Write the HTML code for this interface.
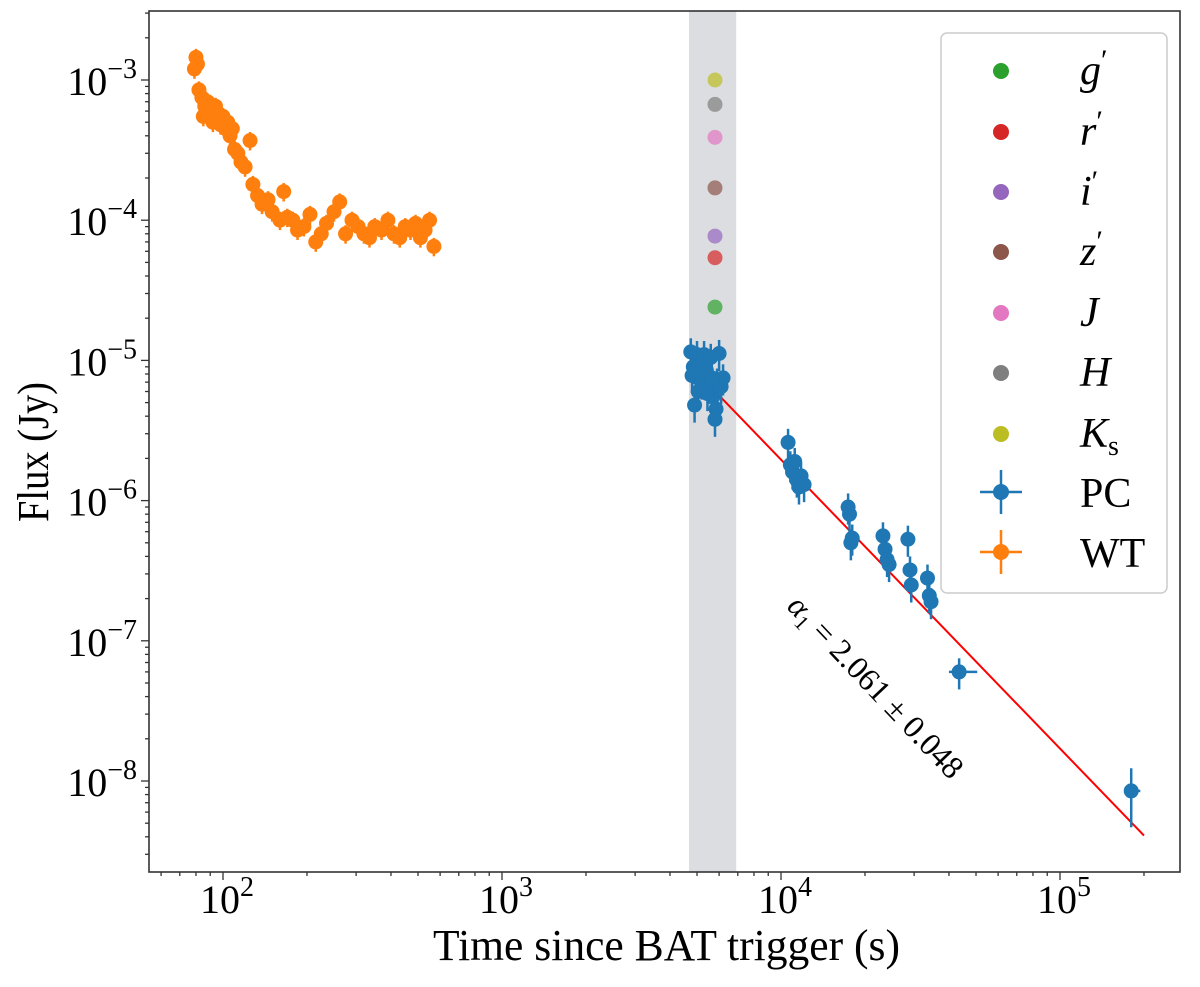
<!DOCTYPE html>
<html><head><meta charset="utf-8">
<style>
html,body{margin:0;padding:0;background:#fff;}
svg text{font-family:"Liberation Serif","DejaVu Serif",serif;fill:#000;}
</style></head>
<body>
<svg id="chart" width="1200" height="982" xmlns="http://www.w3.org/2000/svg">
<g id="plot"></g>
</svg>
<script>
// --- data ---
const wtTime = [80,81,79,82,84,86,85,88,90,92,94,96,98,100,102,104,106,108,110,113,116,120,125,128,133,138,145,150,160,165,170,178,185,195,205,215,225,235,250,262,275,290,305,320,335,350,370,390,410,430,450,470,490,510,530,550,570];
const wtFlux = [1.45e-3,1.3e-3,1.2e-3,8.5e-4,7.5e-4,6.5e-4,5.5e-4,7e-4,6e-4,5e-4,6.5e-4,5.5e-4,4.8e-4,5.5e-4,4.5e-4,5e-4,4e-4,4.5e-4,3.2e-4,3e-4,2.6e-4,2.4e-4,3.7e-4,1.8e-4,1.5e-4,1.3e-4,1.4e-4,1.15e-4,1.0e-4,1.6e-4,1.05e-4,1.0e-4,8.5e-5,9e-5,1.1e-4,7e-5,8e-5,9.5e-5,1.15e-4,1.35e-4,8e-5,1.0e-4,9e-5,8e-5,7.5e-5,9e-5,8.5e-5,1.0e-4,8e-5,7.5e-5,9e-5,8.5e-5,9.5e-5,7.5e-5,8.5e-5,1.0e-4,6.5e-5];
const pcTime = [4750,4800,4900,5000,5100,5200,5300,5400,5500,5600,5700,5800,5900,6000,6100,6200,4850,5050,5250,5450,5650,5850,10600,10800,11000,11200,11400,11600,11800,12100,17400,17600,17800,18000,23200,23600,24000,24400,28500,29000,29300,33500,34000,34500,43500,180000];
const pcFlux = [1.15e-5,7.8e-6,4.8e-6,1.1e-5,9e-6,7e-6,1.1e-5,8.5e-6,6.5e-6,1.05e-5,5.5e-6,3.8e-6,7e-6,1.12e-5,6.5e-6,7.5e-6,9e-6,6e-6,8e-6,5.8e-6,7.5e-6,4.5e-6,2.6e-6,1.8e-6,1.6e-6,1.9e-6,1.4e-6,1.25e-6,1.5e-6,1.3e-6,9e-7,8e-7,5e-7,5.4e-7,5.6e-7,4.5e-7,3.8e-7,3.5e-7,5.3e-7,3.2e-7,2.5e-7,2.8e-7,2.1e-7,1.9e-7,6e-8,8.5e-9];
const pcXErr = [0,0,0,0,0,0,0,0,0,0,0,0,0,0,0,0,0,0,0,0,0,0,0,0,0,0,0,0,0,0,0,0,0,0,0,0,0,0,0,0,0,0,0,0,7000,14000];
const opticalBands = ["Ks","H","J","z'","i'","r'","g'"];
const opticalFlux = [1.0e-3,6.7e-4,3.9e-4,1.7e-4,7.7e-5,5.4e-5,2.4e-5];
const opticalColor = ["#bcbd22","#7f7f7f","#e377c2","#8c564b","#9467bd","#d62728","#2ca02c"];
const opticalTime = 5800;
const bandStart = 4680, bandEnd = 6910;
const fitStart = 4800, fitEnd = 200000, fitIndex = 2.061, fitNorm = 8.9e-6;
const xTickExp = [2,3,4,5];
const yTickExp = [-3,-4,-5,-6,-7,-8];

// --- axes ---
const L=149,R=1180,T=11,B=872;
const X=t=>223+279*(Math.log10(t)-2);
const Y=f=>80+140.2*(-3-Math.log10(f));
const NS="http://www.w3.org/2000/svg";
const g=document.getElementById('plot');
function mk(tag,attrs,parent){const e=document.createElementNS(NS,tag);for(const k in attrs)e.setAttribute(k,attrs[k]);(parent||g).appendChild(e);return e;}

const defs=mk('defs',{});
const cp=mk('clipPath',{id:'clip'},defs);mk('rect',{x:L,y:T,width:R-L,height:B-T},cp);
const data=mk('g',{'clip-path':'url(#clip)'});

const band=mk('rect',{x:X(bandStart),y:T,width:X(bandEnd)-X(bandStart),height:B-T,fill:'#dcdde0'},data);



const fit=mk('line',{x1:X(fitStart),y1:Y(fitNorm),x2:X(fitEnd),y2:Y(fitNorm*Math.pow(fitEnd/fitStart,-fitIndex)),stroke:'#ff0000','stroke-width':2},data);



const wtG=mk('g',{},data);


wtTime.forEach((t,i)=>{const f=wtFlux[i],x=X(t);
 mk('line',{x1:x,x2:x,y1:Y(f*1.15),y2:Y(f*0.85),stroke:'#ff7f0e','stroke-width':2.5},wtG);
 const c=mk('circle',{cx:x,cy:Y(f),r:7.5,fill:'#ff7f0e'},wtG);
 
 
});
const pcG=mk('g',{},data);


pcTime.forEach((t,i)=>{const f=pcFlux[i],x=X(t);const ef=(i==pcTime.length-1)?0.45:0.25;
 mk('line',{x1:x,x2:x,y1:Y(f*(1+ef)),y2:Y(f*(1-ef)),stroke:'#1f77b4','stroke-width':2.5},pcG);
 if(pcXErr[i]>0)mk('line',{x1:X(t-pcXErr[i]*0.5),x2:X(t+pcXErr[i]),y1:Y(f),y2:Y(f),stroke:'#1f77b4','stroke-width':2.5},pcG);
 const c=mk('circle',{cx:x,cy:Y(f),r:7.5,fill:'#1f77b4'},pcG);
 
 
});
opticalFlux.forEach((f,i)=>{
 const c=mk('circle',{cx:X(opticalTime),cy:Y(f),r:7.5,fill:opticalColor[i],'fill-opacity':0.7},data);
 
 
});

const frame=mk('rect',{x:L,y:T,width:R-L,height:B-T,fill:'none',stroke:'#333','stroke-width':1.6});



for(let e=1;e<=5;e++){for(let m=1;m<10;m++){const v=m*Math.pow(10,e);const x=X(v);if(x<L||x>R)continue;
 mk('line',{x1:x,x2:x,y1:B,y2:B+(m==1?8:4),stroke:'#333','stroke-width':1.3});}}
xTickExp.forEach(e=>{const t=mk('text',{x:X(Math.pow(10,e))+4,y:B+41,'font-size':40,'text-anchor':'middle'});
 
 
 t.innerHTML='10<tspan dy="-17" font-size="28">'+e+'</tspan>';});
for(let e=-9;e<=-3;e++){for(let m=1;m<10;m++){const v=m*Math.pow(10,e);const y=Y(v);if(y<T||y>B)continue;
 mk('line',{x1:L,x2:L-(m==1?8:4),y1:y,y2:y,stroke:'#333','stroke-width':1.3});}}
yTickExp.forEach(e=>{const t=mk('text',{x:L-12,y:Y(Math.pow(10,e))+15,'font-size':40,'text-anchor':'end'});
 
 
 t.innerHTML='10<tspan dy="-17" font-size="28">\u2212'+(-e)+'</tspan>';});

const xt=mk('text',{x:433,y:960,'font-size':44,textLength:467,lengthAdjust:'spacingAndGlyphs'});xt.textContent='Time since BAT trigger (s)';


const yt=mk('text',{x:0,y:0,'font-size':44,'text-anchor':'middle',textLength:140,lengthAdjust:'spacingAndGlyphs',transform:'translate(48,452) rotate(-90)'});yt.textContent='Flux (Jy)';



const an=mk('text',{x:0,y:0,'font-size':32,'text-anchor':'middle',transform:'translate(868,694) rotate(46.5)'});


an.innerHTML='<tspan font-style="italic">α</tspan><tspan font-size="21" dy="6">1</tspan><tspan dy="-6"> = 2.061 ± 0.048</tspan>';

const lg=mk('g',{});


mk('rect',{x:941,y:33,width:226,height:560,rx:6,fill:'#fff','fill-opacity':0.8,stroke:'#ccc','stroke-width':1.5},lg);
const legLabels=["g'","r'","i'","z'","J","H","K"];
const legColors=["#2ca02c","#d62728","#9467bd","#8c564b","#e377c2","#7f7f7f","#bcbd22"];
const ly=[71,132,192,252,313,373,434];
legLabels.forEach((s,i)=>{
 const c=mk('circle',{cx:1001,cy:ly[i],r:8,fill:legColors[i]},lg);
 
 
 const t=mk('text',{x:1080,y:ly[i]+13,'font-size':42,'font-style':'italic'},lg);
 
 
 if(s=="K")t.innerHTML='K<tspan font-style="normal" font-size="28" dy="8">s</tspan>';
 else if(s.endsWith("'"))t.innerHTML=s[0]+'<tspan font-style="normal" dy="-14" font-size="30">′</tspan>';
 else t.textContent=s;
});
[['PC','#1f77b4',492],['WT','#ff7f0e',552]].forEach(([s,col,y])=>{
 mk('line',{x1:980,x2:1022,y1:y,y2:y,stroke:col,'stroke-width':2.5},lg);
 mk('line',{x1:1001,x2:1001,y1:y-22,y2:y+22,stroke:col,'stroke-width':2.5},lg);
 const c=mk('circle',{cx:1001,cy:y,r:8,fill:col},lg);
 
 
 const t=mk('text',{x:1080,y:y+15,'font-size':42},lg);t.textContent=s;
 
 
});
</script>
</body></html>
